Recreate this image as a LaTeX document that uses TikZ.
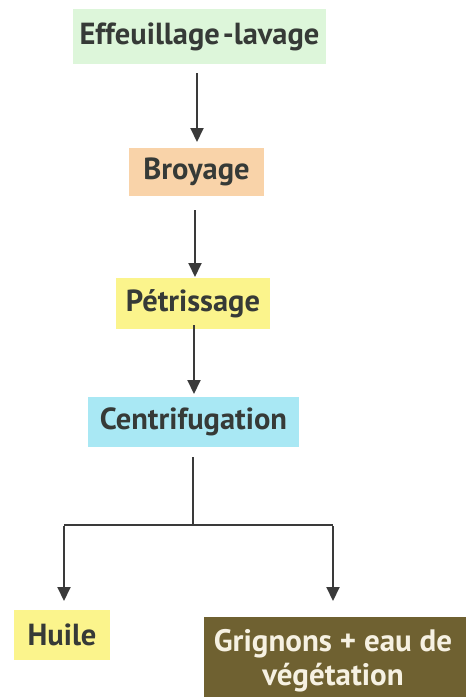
\documentclass[tikz,border=0pt]{standalone}
\usepackage{fontspec}
\setmainfont{PT Sans}
\usetikzlibrary{arrows.meta}
\definecolor{txt}{HTML}{363A37}
\definecolor{cgreen}{HTML}{DDF6DA}
\definecolor{corange}{HTML}{F9D3A9}
\definecolor{cyellow}{HTML}{FBF48C}
\definecolor{ccyan}{HTML}{A9E8F4}
\definecolor{cbrown}{HTML}{6F6131}
\definecolor{cline}{HTML}{3A3A3A}
\definecolor{ccream}{HTML}{F6F1E2}
\begin{document}
\begin{tikzpicture}[x=1pt,y=-1pt,
  stepbox/.style={inner sep=0pt, text=txt, font=\fontsize{30.5}{34}\selectfont\bfseries},
  flow/.style={draw=cline, line width=2pt, -{Triangle[width=13pt,length=14pt]}},
  plain/.style={draw=cline, line width=2pt}]
\useasboundingbox (0,0) rectangle (466,697);
\node[stepbox, fill=cgreen, minimum width=253pt, minimum height=55pt] (e) at (199.5,36.5) {Effeuillage\kern3pt-lavage};
\node[stepbox, fill=corange, minimum width=135pt, minimum height=48pt] (b) at (196.5,172) {Broyage};
\node[stepbox, fill=cyellow, minimum width=154pt, minimum height=51pt] (p) at (193,303.5) {Pétrissage};
\node[stepbox, fill=ccyan, minimum width=211pt, minimum height=50pt] (c) at (193.5,422) {Centrifugation};
\node[stepbox, fill=cyellow, minimum width=96pt, minimum height=50pt] (h) at (62,635) {Huile};
\fill[cbrown] (204,617) rectangle (466,697);
\node[stepbox, text=ccream, align=center, font=\fontsize{31}{34}\selectfont\bfseries] (g) at (333,660.5) {Grignons + eau de\\végétation};
\coordinate (j) at (193,525);
\coordinate (jl) at (64,525);
\coordinate (jr) at (333,525);
\coordinate (hl) at (64,601);
\coordinate (gr) at (333,601);
\draw[flow] (197,73) -- (197,142);
\draw[flow] (195,210) -- (195,277);
\draw[flow] (194,325) -- (194,394);
\draw[plain] (193,457) -- (j);
\draw[plain] (jl) -- (jr);
\draw[flow] ([yshift=-1pt]jl) -- (hl);
\draw[flow] ([yshift=-1pt]jr) -- (gr);
\end{tikzpicture}
\end{document}
